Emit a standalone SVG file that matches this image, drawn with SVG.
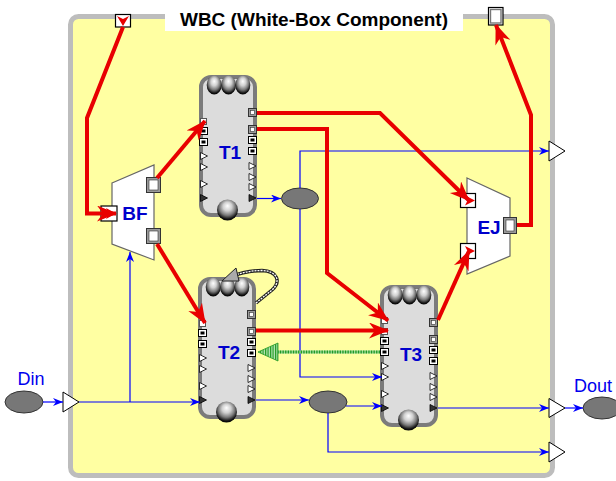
<svg xmlns="http://www.w3.org/2000/svg" xmlns:xlink="http://www.w3.org/1999/xlink" width="616" height="481" viewBox="0 0 616 481">
<style>
.lbl{font-family:"Liberation Sans",Arial,sans-serif;font-weight:bold;font-size:19px;fill:#0000CC;text-anchor:middle}
.io{font-family:"Liberation Sans",Arial,sans-serif;font-size:18px;fill:#0000EE;text-anchor:middle}
.red{fill:none;stroke:#E80000;stroke-width:4;stroke-linejoin:miter;marker-end:url(#ra)}
.blue{fill:none;stroke:#0000FF;stroke-width:1.2;marker-end:url(#ba)}
.oval{fill:#777777;stroke:#333333;stroke-width:1}
.tri{fill:#FFFFFF;stroke:#000000;stroke-width:1}
.pw{fill:#FFFFFF;stroke:#000000;stroke-width:1.2}
.pg{fill:#9A9A9A;stroke:#333333;stroke-width:1}
.pi{fill:#FFFFFF;stroke:#333333;stroke-width:0.6}
.pb{fill:#FFFFFF;stroke:#000000;stroke-width:1}
.pt{fill:#FFFFFF;stroke:#000000;stroke-width:0.8}
.trap{fill:#FFFFFF;stroke:#666666;stroke-width:1.2}
</style>
<defs>
<marker id="ra" markerUnits="userSpaceOnUse" markerWidth="22" markerHeight="18" refX="19" refY="8" orient="auto">
<path d="M0,0 L20,8 L0,16 L6,8 z" fill="#E80000"/>
</marker>
<marker id="ba" markerUnits="userSpaceOnUse" markerWidth="12" markerHeight="10" refX="10" refY="4" orient="auto">
<path d="M0,0 L10,4 L0,8 L3,4 z" fill="#0000FF"/>
</marker>
<radialGradient id="sph" cx="0.5" cy="0.4" r="0.6" fx="0.5" fy="0.3">
<stop offset="0" stop-color="#FFFFFF"/>
<stop offset="0.35" stop-color="#D0D0D0"/>
<stop offset="0.65" stop-color="#7A7A7A"/>
<stop offset="0.9" stop-color="#101010"/>
<stop offset="1" stop-color="#000000"/>
</radialGradient>
<pattern id="gstripe" patternUnits="userSpaceOnUse" width="2.5" height="4">
<rect width="2.5" height="4" fill="#B8E4B8"/>
<rect width="1.2" height="4" fill="#1E9A1E"/>
</pattern>
<g id="ptri"><path class="pt" d="M0,-3.5 L7,0 L0,3.5 z"/></g>
<g id="ptrid"><path d="M0,-3.5 L7,0 L0,3.5 z" fill="#333333" stroke="#000000" stroke-width="0.8"/></g>
<g id="comp">
<rect x="2" y="2" width="54" height="138" rx="10" fill="#DCDCDC" stroke="#7B7B7B" stroke-width="4"/>
<ellipse cx="15.2" cy="10" rx="7.5" ry="9.5" fill="url(#sph)"/>
<ellipse cx="29.5" cy="10" rx="7.5" ry="9.5" fill="url(#sph)"/>
<ellipse cx="43.8" cy="10" rx="7.5" ry="9.5" fill="url(#sph)"/>
<circle cx="28.5" cy="135" r="10.5" fill="url(#sph)"/>
<rect x="1.5" y="43.5" width="6" height="6" fill="#FFFFFF" stroke="#555555" stroke-width="1"/>
<rect class="pb" x="0.5" y="52.5" width="8" height="7"/><rect x="2.5" y="54.5" width="4" height="3" fill="#000000"/>
<rect class="pb" x="0.5" y="63.5" width="8" height="7"/><rect x="2.5" y="65.5" width="4" height="3" fill="#000000"/>
<use xlink:href="#ptri" x="1.5" y="81"/>
<use xlink:href="#ptri" x="1.5" y="92"/>
<use xlink:href="#ptri" x="1.5" y="109"/>
<use xlink:href="#ptrid" x="1.5" y="123"/>
<rect class="pg" x="49.5" y="33.5" width="8" height="8"/><rect class="pi" x="51.5" y="35.5" width="4" height="4"/>
<rect class="pg" x="49.5" y="50.5" width="8" height="8"/><rect class="pi" x="51.5" y="52.5" width="4" height="4"/>
<rect class="pb" x="49.5" y="61.5" width="8" height="7"/><rect x="51.5" y="63.5" width="4" height="3" fill="#000000"/>
<rect class="pb" x="49.5" y="72.5" width="8" height="7"/><rect x="51.5" y="74.5" width="4" height="3" fill="#000000"/>
<use xlink:href="#ptri" x="50" y="91"/>
<use xlink:href="#ptri" x="50" y="102"/>
<use xlink:href="#ptri" x="50" y="112"/>
<use xlink:href="#ptrid" x="50" y="123"/>
</g>
</defs>

<rect width="616" height="481" fill="#FFFFFF"/>

<g id="WBC">
<rect x="70.5" y="16.5" width="482" height="459" rx="8" fill="#FFFFA2" stroke="#BDBDBD" stroke-width="5"/>
<rect x="165" y="0" width="298" height="31" fill="#FFFFFF"/>
<text x="314" y="26" font-family="Liberation Sans, Arial, sans-serif" font-weight="bold" font-size="19" text-anchor="middle" fill="#000000">WBC (White-Box Component)</text>
</g>

<g id="port-top-in">
<rect x="115.5" y="14.5" width="15" height="12.5" fill="#FFFFFF" stroke="#000000" stroke-width="1.2"/>
<path d="M117,16 L123,26 L129,16 L123,19 z" fill="#E80000"/>
</g>
<g id="port-top-out">
<rect x="488.5" y="7.5" width="14.5" height="17.5" fill="#FFFFFF" stroke="#000000" stroke-width="1.2"/>
<rect x="490.5" y="9.5" width="10.5" height="13.5" fill="#FFFFFF" stroke="#777777" stroke-width="1.4"/>
</g>

<g id="BF">
<polygon class="trap" points="112,183 154,165 154,260 112,244"/>
<rect x="101" y="206" width="16" height="15" fill="#FFFFFF" stroke="#000000" stroke-width="1.2"/>
<path d="M106,208 L116,213.5 L106,219 L109,213.5 z" fill="#E80000"/>
<rect class="pg" x="146.5" y="177.5" width="14" height="15"/><rect class="pi" x="149" y="180" width="9" height="10"/>
<rect class="pg" x="146.5" y="228.5" width="14" height="15"/><rect class="pi" x="149" y="231" width="9" height="10"/>
<text class="lbl" x="135" y="220">BF</text>
</g>

<g id="EJ">
<polygon class="trap" points="467,178 510,198 510,256 467,274"/>
<rect x="460.5" y="193.5" width="15" height="14" fill="#FFFFFF" stroke="#000000" stroke-width="1.2"/>
<path d="M465,195.5 L475,200.5 L465,205.5 L467.5,200.5 z" fill="#E80000"/>
<rect x="460.5" y="243.5" width="15" height="15" fill="#FFFFFF" stroke="#000000" stroke-width="1.2"/>
<path d="M465,246 L475,251 L465,256 L467.5,251 z" fill="#E80000"/>
<rect class="pg" x="503.5" y="217.5" width="13" height="16"/><rect class="pi" x="506" y="220" width="8" height="11"/>
<text class="lbl" x="489" y="234">EJ</text>
</g>

<g id="T1">
<use xlink:href="#comp" x="199" y="75"/>
<text class="lbl" x="230" y="159">T1</text>
</g>
<g id="T2">
<use xlink:href="#comp" x="198" y="277"/>
<text class="lbl" x="229" y="359">T2</text>
</g>
<g id="T3">
<use xlink:href="#comp" x="380" y="285"/>
<rect x="381.5" y="317.5" width="6" height="6" fill="#FFFFFF" stroke="#555555" stroke-width="1"/>
<text class="lbl" x="411" y="361">T3</text>
</g>

<g id="oval1"><ellipse class="oval" cx="300" cy="198.5" rx="18.5" ry="10.5"/></g>
<g id="oval2"><ellipse class="oval" cx="328" cy="402" rx="19" ry="11"/></g>

<g id="Din">
<ellipse class="oval" cx="24" cy="402" rx="19" ry="11"/>
<text class="io" x="31" y="385">Din</text>
<polygon class="tri" points="63,392 79,402 63,412"/>
</g>
<g id="Dout">
<polygon class="tri" points="549,398.5 565,408 549,417.5"/>
<ellipse class="oval" cx="602" cy="408" rx="19" ry="11"/>
<text class="io" x="593" y="392">Dout</text>
</g>
<g id="out-top"><polygon class="tri" points="549,141 565,151 549,161"/></g>
<g id="out-bottom"><polygon class="tri" points="549,442 565,452 549,462"/></g>

<g id="connectors">
<path class="blue" d="M43,402 H63"/>
<path class="blue" d="M79,402 H200"/>
<path class="blue" d="M130,402 V252"/>
<path class="blue" d="M257,198.5 H281"/>
<path class="blue" d="M300,188 V151 H549"/>
<path class="blue" d="M300,209 V377 H382"/>
<path class="blue" d="M256,400 H309"/>
<path class="blue" d="M346,406 H382"/>
<path class="blue" d="M328,413 V452 H549"/>
<path class="blue" d="M438,408 H549"/>
<path class="blue" d="M565,408 H583"/>

<path d="M380,352 H270" fill="none" stroke="#9AD89A" stroke-width="3"/>
<path d="M380,352 H270" fill="none" stroke="#229922" stroke-width="3" stroke-dasharray="1.3,1.3"/>
<polygon points="258,352 278,343 278,361" fill="url(#gstripe)" stroke="#229922" stroke-width="0.8"/>

<path d="M256,303 L272,290 C281,282 278,271 262,270.5 C250,270.5 240,273 230,277" fill="none" stroke="#222222" stroke-width="3.4"/>
<path d="M256,303 L272,290 C281,282 278,271 262,270.5 C250,270.5 240,273 230,277" fill="none" stroke="#FFFFFF" stroke-width="1.3" stroke-dasharray="2,1"/>
<polygon points="222,281 236,268 239,281" fill="#AAAAAA" stroke="#222222" stroke-width="1"/>

<path class="red" d="M123,27 L87,118 V213.5 H116"/>
<path class="red" d="M157,178 L205,121"/>
<path class="red" d="M157,244 L205,323"/>
<path class="red" d="M257,113 H380 L469,200.5"/>
<path class="red" d="M257,129 H327 V273 L388,320.5"/>
<path class="red" d="M256,330.5 H388"/>
<path class="red" d="M438,320 L469,251"/>
<path class="red" d="M517,225 H531 V115 L496,25"/>
</g>
</svg>
